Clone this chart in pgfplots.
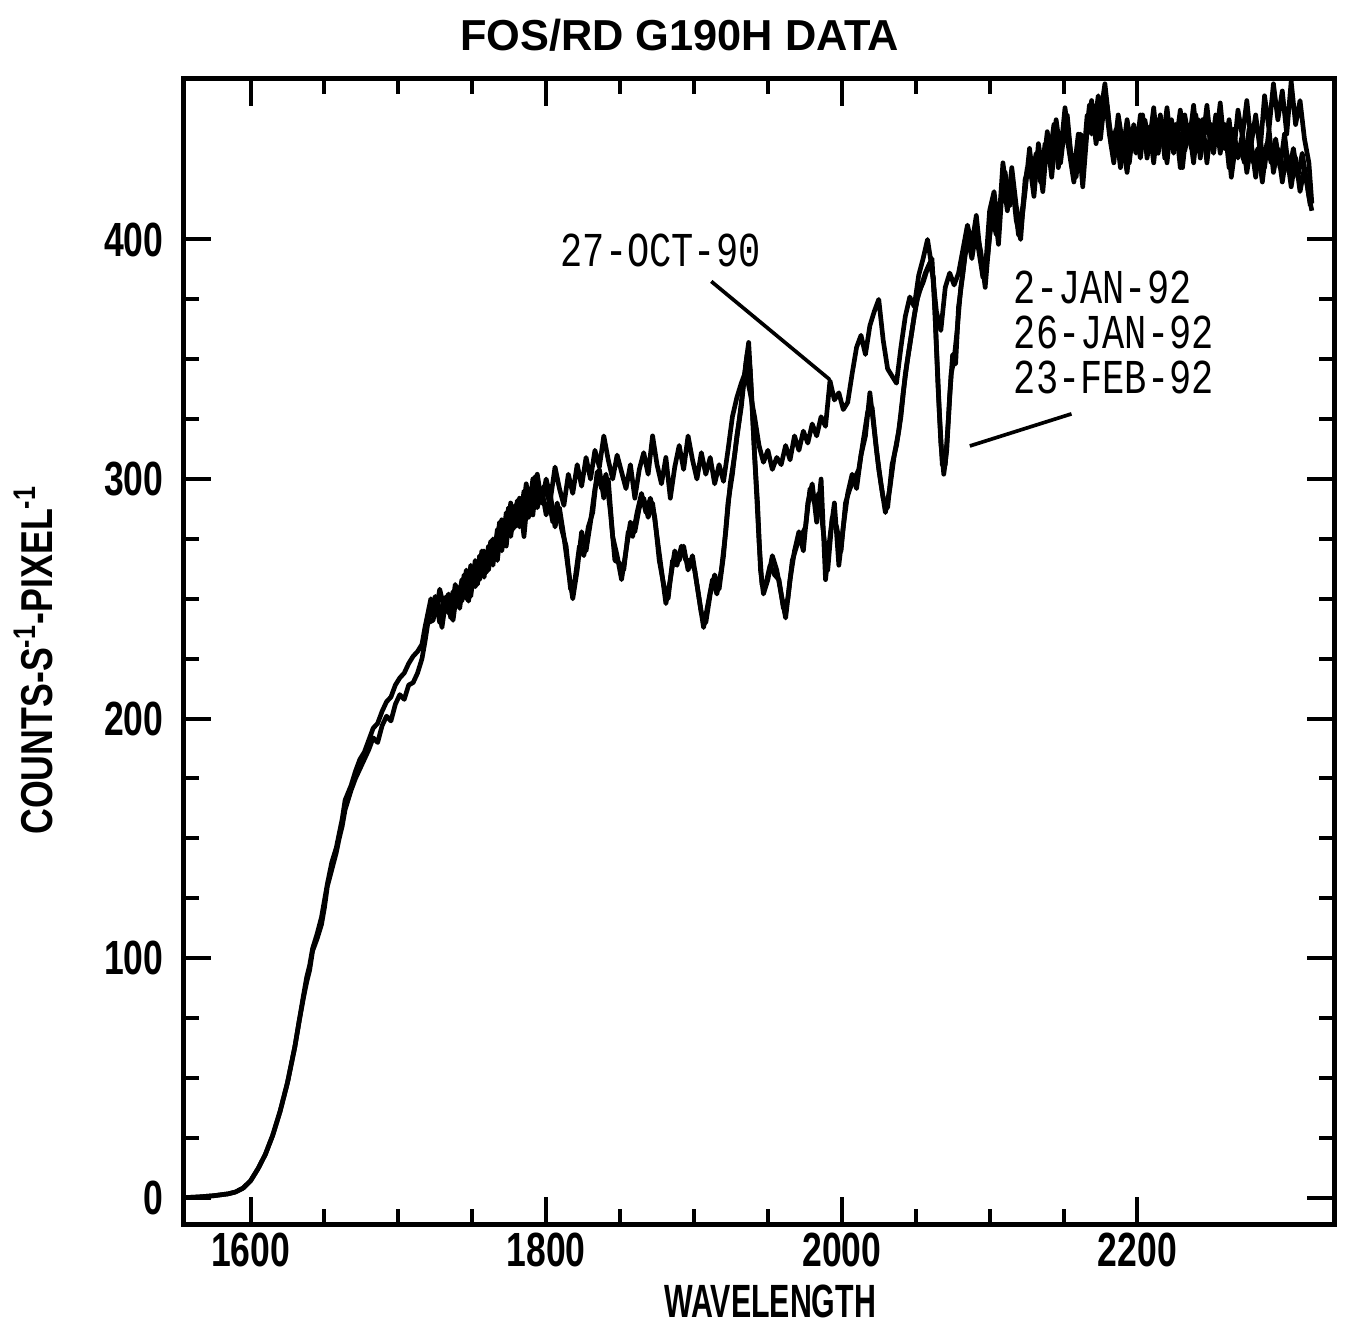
\documentclass[border=0pt]{standalone}
\usepackage{fontspec}
\setmainfont{Liberation Sans}
\newfontfamily\tickfont{Liberation Sans}[FakeStretch=0.74]
\newfontfamily\xlabfont{Liberation Sans}[FakeStretch=0.65]
\newfontfamily\ylabfont{Liberation Sans}[FakeStretch=0.8]
\newfontfamily\annfont{Liberation Mono}[FakeStretch=0.76]
\usepackage{pgfplots}
\usepackage{pgfplotstable}
\pgfplotsset{compat=1.18}

% 27-OCT-90
\pgfplotstableread{
x y
1555 0
1565 0.3
1575 0.8
1585 1.6
1590 2.4
1595 4
1600 7
1605 12
1610 18
1615 26
1620 36
1625 48
1630 63
1633 74
1636 85
1638 92
1640 97
1642 104
1645 110
1648 117
1650 124
1652 131
1655 140
1658 146
1660 152
1662 158
1664 166
1666 169
1668 172
1671 178
1674 183
1677 186
1680 191
1683 196
1686 198
1689 203
1692 207
1695 209
1698 214
1701 217
1704 219
1707 223
1710 226
1713 228
1716 231
1718 238
1720 244
1722 250
1725 243
1728 254
1731 246
1734 252
1737 241
1740 255
1743 249
1746 262
1749 251
1752 266
1755 258
1758 270
1761 262
1764 275
1767 266
1770 283
1773 272
1776 290
1779 280
1782 292
1785 276
1788 296
1791 285
1794 302
1797 290
1800 300
1803 292
1806 305
1809 296
1812 289
1815 302
1818 294
1821 306
1824 297
1827 309
1830 300
1833 312
1836 305
1839 318
1842 308
1845 300
1848 310
1851 303
1854 296
1857 306
1860 292
1863 304
1866 311
1869 302
1872 318
1875 306
1878 298
1881 309
1884 292
1887 305
1890 314
1893 304
1896 318
1899 308
1902 300
1905 311
1908 302
1911 309
1914 298
1917 306
1920 299
1923 312
1926 326
1929 334
1932 340
1935 345
1938 336
1941 326
1944 314
1947 307
1950 312
1953 304
1956 309
1959 306
1962 314
1965 308
1968 318
1971 312
1974 320
1977 315
1980 323
1983 318
1986 326
1989 322
1992 341
1995 333
1998 336
2001 329
2004 332
2007 344
2010 355
2013 360
2016 352
2019 364
2022 370
2025 375
2028 358
2031 346
2034 343
2037 340
2040 355
2043 368
2046 376
2049 372
2052 385
2055 392
2058 400
2061 388
2064 370
2067 362
2070 380
2073 386
2076 381
2079 386
2082 396
2085 406
2088 398
2091 410
2094 392
2097 386
2100 412
2103 420
2106 404
2109 432
2112 418
2115 426
2118 408
2121 400
2124 425
2127 432
2130 418
2133 440
2136 428
2139 445
2142 430
2145 450
2148 436
2151 455
2154 440
2157 428
2160 444
2163 422
2166 446
2169 458
2172 440
2175 452
2178 465
2181 448
2184 436
2187 452
2190 440
2193 428
2196 446
2199 436
2202 452
2205 438
2208 447
2211 432
2214 450
2217 440
2220 455
2223 438
2226 448
2229 430
2232 452
2235 441
2238 456
2241 437
2244 450
2247 432
2250 448
2253 440
2256 457
2259 438
2262 450
2265 435
2268 454
2271 443
2274 458
2277 440
2280 452
2283 437
2286 460
2289 446
2292 465
2295 450
2298 462
2301 444
2304 466
2307 448
2310 458
2313 442
2316 432
2318 415
}\dataA

% 2-JAN-92
\pgfplotstableread{
x y
1555 0
1565 0.3
1575 0.8
1585 1.6
1590 2.4
1595 4
1600 7
1605 12
1610 18
1615 26
1620 36
1625 48
1630 63
1633 74
1636 84
1638 90
1640 95
1642 103
1645 108
1648 114
1650 121
1652 130
1655 137
1658 144
1660 150
1662 155
1664 162
1666 166
1668 170
1671 175
1674 179
1677 183
1680 187
1683 192
1686 190
1689 197
1692 201
1695 199
1698 206
1701 210
1704 208
1707 214
1710 215
1713 219
1716 225
1718 232
1720 240
1722 245
1725 251
1728 240
1731 250
1734 244
1737 253
1740 247
1743 258
1746 250
1749 264
1752 255
1755 268
1758 259
1761 272
1764 264
1767 279
1770 270
1773 286
1776 276
1779 289
1782 280
1785 295
1788 284
1791 300
1794 288
1797 296
1800 285
1803 293
1806 280
1809 288
1812 276
1815 262
1818 250
1821 262
1824 278
1827 270
1830 282
1833 296
1836 304
1839 292
1842 300
1845 276
1848 268
1851 258
1854 270
1857 282
1860 278
1863 288
1866 292
1869 284
1872 290
1875 276
1878 262
1881 248
1884 258
1887 270
1890 266
1893 272
1896 262
1899 268
1902 256
1905 244
1908 240
1911 252
1914 260
1917 254
1920 268
1923 290
1926 302
1929 318
1932 330
1935 348
1937 357
1939 335
1941 310
1943 290
1945 262
1947 252
1950 258
1953 268
1956 262
1959 252
1962 242
1965 258
1968 270
1971 278
1974 270
1977 290
1980 298
1983 282
1986 300
1989 258
1992 276
1995 290
1998 264
2001 280
2004 294
2007 302
2010 296
2013 310
2016 318
2019 336
2022 320
2025 304
2028 292
2031 288
2034 306
2037 314
2040 326
2043 344
2046 356
2049 368
2052 378
2055 382
2058 388
2061 392
2063 370
2065 340
2067 315
2069 302
2071 312
2073 335
2075 352
2077 348
2079 372
2082 386
2085 402
2088 392
2091 404
2094 395
2097 380
2100 402
2103 414
2106 398
2109 426
2112 412
2115 430
2118 414
2121 404
2124 420
2127 438
2130 422
2133 434
2136 420
2139 442
2142 426
2145 446
2148 432
2151 448
2154 436
2157 424
2160 440
2163 430
2166 452
2169 444
2172 456
2175 442
2178 460
2181 444
2184 432
2187 448
2190 436
2193 450
2196 438
2199 444
2202 434
2205 450
2208 440
2211 455
2214 436
2217 446
2220 432
2223 450
2226 440
2229 454
2232 437
2235 446
2238 432
2241 450
2244 440
2247 456
2250 438
2253 452
2256 436
2259 448
2262 430
2265 446
2268 434
2271 444
2274 428
2277 440
2280 426
2283 442
2286 430
2289 446
2292 428
2295 438
2298 424
2301 436
2304 422
2307 434
2310 420
2313 430
2316 418
2318 412
}\dataB

% 26-JAN-92 / 23-FEB-92 (nearly identical to 2-JAN-92)
\pgfplotstableread{
x y
1720 240
1723.5 241
1726.5 250
1729.5 238
1732.5 251
1735.5 242
1738.5 256
1741.5 246
1744.5 260
1747.5 249
1750.5 263
1753.5 256
1756.5 270
1759.5 261
1762.5 274
1765.5 267
1768.5 282
1771.5 272
1774.5 288
1777.5 279
1780.5 291
1783.5 282
1786.5 298
1789.5 287
1792.5 301
1795.5 290
1798.5 297
1801.5 292
1804.5 282
1807.5 290
1810.5 279
1813.5 272
1816.5 254
1819.5 258
1822.5 272
1825.5 268
1828.5 280
1831.5 286
1834.5 303
1837.5 296
1840.5 302
1843.5 286
1846.5 266
1849.5 265
1852.5 262
1855.5 278
1858.5 276
1861.5 286
1864.5 294
1867.5 286
1870.5 292
1873.5 284
1876.5 266
1879.5 256
1882.5 250
1885.5 266
1888.5 264
1891.5 272
1894.5 266
1897.5 266
1900.5 262
1903.5 250
1906.5 238
1909.5 248
1912.5 258
1915.5 252
1918.5 262
1921.5 278
1924.5 298
1927.5 310
1930.5 324
1933.5 340
1936 352
1938 346
1940 322
1942 298
1944 274
1946 256
1948.5 256
1951.5 264
1954.5 260
1957.5 258
1960.5 246
1963.5 250
1966.5 266
1969.5 272
1972.5 276
1975.5 280
1978.5 296
1981.5 290
1984.5 294
1987.5 278
1990.5 262
1993.5 284
1996.5 280
1999.5 270
2002.5 290
2005.5 296
2008.5 300
2011.5 304
2014.5 316
2017.5 328
2020.5 330
2023.5 312
2026.5 298
2029.5 286
2032.5 296
2035.5 310
2038.5 320
2041.5 336
2044.5 350
2047.5 362
2050.5 374
2053.5 380
2056.5 386
2059.5 390
2062 384
2064 356
2066 328
2068 306
2070 306
2072 324
2074 344
2076 350
2078 362
2080.5 380
2083.5 394
2086.5 398
2089.5 400
2092.5 396
2095.5 384
2098.5 392
2101.5 410
2104.5 402
2107.5 416
2110.5 428
2113.5 414
2116.5 420
2119.5 402
2122.5 414
2125.5 430
2128.5 426
2131.5 436
2134.5 424
2137.5 440
2140.5 434
2143.5 448
2146.5 430
2149.5 444
2152.5 452
2155.5 432
2158.5 426
2161.5 444
2164.5 438
2167.5 456
2170.5 446
2173.5 460
2176.5 450
2179.5 456
2182.5 438
2185.5 446
2188.5 430
2191.5 444
2194.5 432
2197.5 448
2200.5 440
2203.5 452
2206.5 434
2209.5 446
2212.5 438
2215.5 452
2218.5 434
2221.5 448
2224.5 436
2227.5 446
2230.5 430
2233.5 448
2236.5 438
2239.5 452
2242.5 434
2245.5 446
2248.5 444
2251.5 436
2254.5 450
2257.5 440
2260.5 446
2263.5 426
2266.5 440
2269.5 438
2272.5 432
2275.5 446
2278.5 432
2281.5 438
2284.5 424
2287.5 440
2290.5 432
2293.5 442
2296.5 430
2299.5 444
2302.5 428
2305.5 438
2308.5 426
2311.5 436
2314.5 424
2317 414
}\dataC

\begin{document}
\begin{tikzpicture}
\useasboundingbox (-55.2pt,-31pt) rectangle (350.7pt,367.2pt);
\begin{axis}[
  at={(0pt,0pt)}, anchor=south west,
  scale only axis, width=345pt, height=343.5pt,
  xmin=1555, xmax=2333, ymin=-11, ymax=467,
  xtick={1600,1800,2000,2200}, minor x tick num=3,
  ytick={0,100,200,300,400}, minor y tick num=3,
  tick align=inside,
  major tick length=8pt, minor tick length=4.5pt,
  tick style={black, line width=1.2pt},
  axis line style={line width=1.5pt},
  /pgf/number format/assume math mode=true,
  /pgf/number format/set thousands separator={},
  tick label style={font=\tickfont\bfseries\fontsize{14.4}{15}\selectfont},
  xticklabel style={anchor=north, inner sep=0pt, yshift=-2.5pt},
  yticklabel style={anchor=east, inner sep=0pt, xshift=-6pt},
  title={FOS/RD G190H DATA},
  title style={at={(axis description cs:0.431,1.021)}, anchor=center, inner sep=0pt, font=\bfseries\fontsize{13}{14}\selectfont},
  xlabel={WAVELENGTH},
  xlabel style={at={(axis description cs:0.5096,-0.0673)}, anchor=center, inner sep=0pt, font=\xlabfont\bfseries\fontsize{14}{15}\selectfont},
  ylabel={COUNTS-S\textsuperscript{-1}-PIXEL\textsuperscript{-1}},
  ylabel style={at={(axis description cs:-0.1310,0.4926)}, anchor=center, inner sep=0pt, font=\ylabfont\bfseries\fontsize{13.4}{14}\selectfont},
]
\addplot[black, line width=1.4pt, line join=round] table[x=x, y=y] {\dataC};
\addplot[black, line width=1.4pt, line join=round] table[x=x, y=y] {\dataB};
\addplot[black, line width=1.4pt, line join=round] table[x=x, y=y] {\dataA};
\node[font=\annfont\fontsize{14.6}{14.6}\selectfont, inner sep=0pt] at (axis cs:1877.4,395.3) {27-OCT-90};
\draw[line width=1.1pt] (axis cs:1911.7,382.5) -- (axis cs:1991.9,341.5);
\node[font=\annfont\fontsize{14.6}{13.4}\selectfont, inner sep=0pt, anchor=north west, align=left] at (axis cs:2116,387) {2-JAN-92\\26-JAN-92\\23-FEB-92};
\draw[line width=1.1pt] (axis cs:2086.6,313.8) -- (axis cs:2155.4,327.2);
\end{axis}
\end{tikzpicture}
\end{document}
